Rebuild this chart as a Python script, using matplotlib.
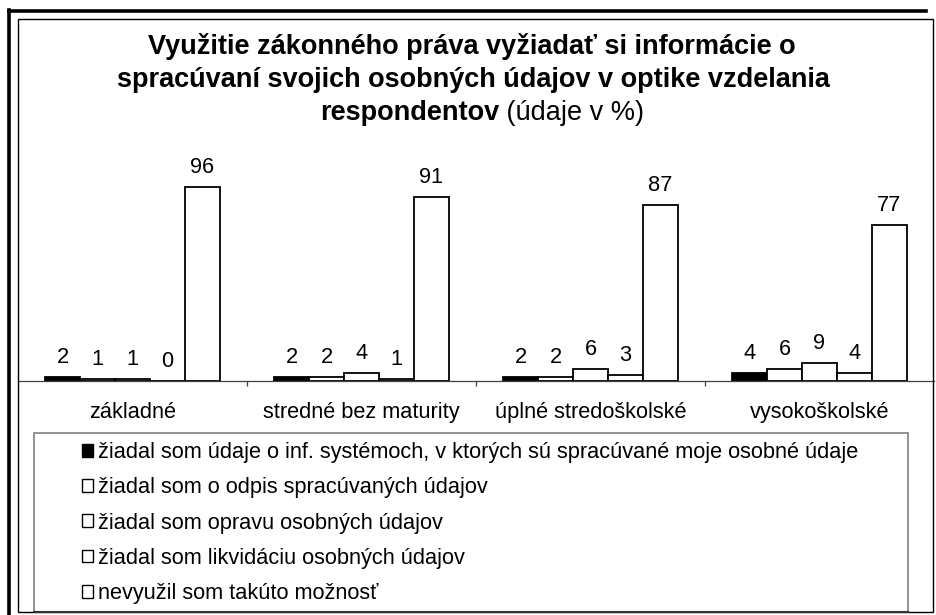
import matplotlib
matplotlib.use("Agg")
import matplotlib.pyplot as plt
from matplotlib.patches import Rectangle
from matplotlib.lines import Line2D
import numpy as np

plt.rcParams['font.family'] = ['Liberation Sans', 'DejaVu Sans']

categories = ["základné", "stredné bez maturity", "úplné stredoškolské", "vysokoškolské"]
series_names = [
    "žiadal som údaje o inf. systémoch, v ktorých sú spracúvané moje osobné údaje",
    "žiadal som o odpis spracúvaných údajov",
    "žiadal som opravu osobných údajov",
    "žiadal som likvidáciu osobných údajov",
    "nevyužil som takúto možnosť",
]
values_info_systems = [2, 2, 2, 4]
values_copy = [1, 2, 2, 6]
values_correction = [1, 4, 6, 9]
values_liquidation = [0, 1, 3, 4]
values_not_used = [96, 91, 87, 77]
series_values = [values_info_systems, values_copy, values_correction,
                 values_liquidation, values_not_used]
fills = ["black", "white", "white", "white", "white"]

W, H = 936, 615
fig = plt.figure(figsize=(W / 100, H / 100), dpi=100)
fig.patch.set_facecolor("white")

def fx(px):
    return px / W

def fy(py):
    return 1 - py / H

FS = 15.7

# frames
fig.add_artist(Line2D([fx(9), fx(9)], [fy(10), fy(620)], color="black", lw=2.6,
                      transform=fig.transFigure))
fig.add_artist(Line2D([fx(9), fx(926)], [fy(10.5), fy(10.5)], color="black", lw=2.6,
                      transform=fig.transFigure))
fig.add_artist(Rectangle((fx(18), fy(612)), fx(933) - fx(18), fy(19) - fy(612),
                         fill=False, edgecolor="black", lw=1.0,
                         transform=fig.transFigure))

# axes: baseline at y=381, 100 units = 202 px
base_px = 381
top_px = base_px - 202
ax = fig.add_axes([fx(18), fy(base_px), fx(934) - fx(18), fy(top_px) - fy(base_px)])
ax.set_facecolor("none")
ax.set_xlim(-0.5, 3.5)
ax.set_ylim(0, 100)
for s in ["left", "right", "top"]:
    ax.spines[s].set_visible(False)
ax.spines["bottom"].set_color("#404040")
ax.spines["bottom"].set_linewidth(0.9)
ax.set_yticks([])
ax.set_xticks([0.5, 1.5, 2.5])
ax.set_xticklabels([])
ax.tick_params(axis="x", direction="out", length=3.5, width=0.9, color="#404040")

x = np.arange(len(categories))
bw = 35 / 229
for j, (vals, fc) in enumerate(zip(series_values, fills)):
    pos = x + (j - 2) * bw
    ax.bar(pos, vals, width=bw, color=fc, edgecolor="black", linewidth=1.3,
           label=series_names[j], clip_on=False)
    for xi, v in zip(pos, vals):
        ax.annotate(str(v), xy=(xi, v), xytext=(0, 9), textcoords="offset pixels",
                    ha="center", va="bottom", fontsize=FS, annotation_clip=False)

for i, c in enumerate(categories):
    ax.annotate(c, xy=(i, 0), xycoords=("data", "axes fraction"),
                xytext=(0, -37), textcoords="offset pixels",
                ha="center", va="baseline", fontsize=FS, annotation_clip=False)

# title
tfs = 19.5
fig.text(fx(472), fy(46), "Využitie zákonného práva vyžiadať si informácie o",
         ha="center", va="center", fontsize=tfs, fontweight="bold")
fig.text(fx(473), fy(80), "spracúvaní svojich osobných údajov v optike vzdelania",
         ha="center", va="center", fontsize=tfs, fontweight="bold")
t1 = fig.text(0, fy(113), "respondentov", ha="left", va="center", fontsize=tfs,
              fontweight="bold")
t2 = fig.text(0, fy(113), " (údaje v %)", ha="left", va="center", fontsize=tfs)
fig.canvas.draw()
r = fig.canvas.get_renderer()
w1 = t1.get_window_extent(r).width
w2 = t2.get_window_extent(r).width
start = 482 - (w1 + w2) / 2
t1.set_x(fx(start))
t2.set_x(fx(start + w1))

# legend box
fig.add_artist(Rectangle((fx(34), fy(612)), fx(908) - fx(34), fy(433) - fy(612),
                         fill=False, edgecolor="#808080", lw=1.2,
                         transform=fig.transFigure))
fig.add_artist(Line2D([fx(34), fx(908)], [fy(611.5), fy(611.5)], color="#303030", lw=1.5,
                      transform=fig.transFigure))
leg_handles = [Rectangle((0, 0), 1, 1, facecolor=fc, edgecolor="black", lw=1.0)
               for fc in fills]
fig.legend(leg_handles, series_names, loc="upper left",
           bbox_to_anchor=(fx(82), fy(442)), frameon=False, fontsize=FS,
           handlelength=0.52, handleheight=0.52, handletextpad=0.2,
           labelspacing=0.655, borderaxespad=0, borderpad=0)

fig.savefig("out.png", dpi=100)
